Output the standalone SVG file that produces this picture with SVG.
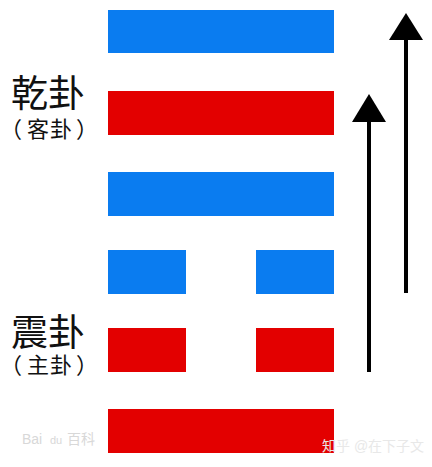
<svg xmlns="http://www.w3.org/2000/svg" width="432" height="467" viewBox="0 0 432 467">
<defs>
<style>
.blue{fill:#0a7cf0}
.red{fill:#e30000}
.lbl{font-family:"Noto Sans CJK SC","Noto Sans CJK JP",sans-serif;fill:#111}
.wm{font-family:"Liberation Sans","Noto Sans CJK SC",sans-serif;fill:#d8d8d8}
.ln{stroke:#000;stroke-width:4;fill:none}
.hd{fill:#000}
</style>
</defs>
<rect width="432" height="467" fill="#fff"/>
<g id="yao6"><rect class="blue" x="108" y="10" width="226" height="43"/></g>
<g id="yao5"><rect class="red" x="108" y="91" width="226" height="44"/></g>
<g id="yao4"><rect class="blue" x="108" y="172" width="226" height="44"/></g>
<g id="yao3"><rect class="blue" x="108" y="250" width="78" height="44"/><rect class="blue" x="256" y="250" width="78" height="44"/></g>
<g id="yao2"><rect class="red" x="108" y="328" width="78" height="44"/><rect class="red" x="256" y="328" width="78" height="44"/></g>
<g id="yao1"><rect class="red" x="108" y="409" width="226" height="44"/></g>
<g id="label-qian">
<text class="lbl" x="11" y="107" font-size="37">乾卦</text>
<text class="lbl" x="0 27 50 76" y="137" font-size="22">（客卦）</text>
</g>
<g id="label-zhen">
<text class="lbl" x="11" y="346" font-size="37">震卦</text>
<text class="lbl" x="0 27 50 76" y="373" font-size="22">（主卦）</text>
</g>
<g id="connectors">
<line class="ln" x1="406" y1="293" x2="406" y2="36"/>
<polygon class="hd" points="406,13 423,40 389,40"/>
<line class="ln" x1="369" y1="372" x2="369" y2="118"/>
<polygon class="hd" points="369,94 386,122 352,122"/>
</g>
<g id="watermarks">
<text class="wm" x="22" y="444" font-size="14">Bai</text>
<text class="wm" x="50" y="444" font-size="11">du</text>
<text class="wm" x="67" y="444" font-size="14">百科</text>
<text class="wm" x="322" y="451" font-size="14" style="fill:#e8e8e8">知乎 @在下子文</text>
</g>
</svg>
